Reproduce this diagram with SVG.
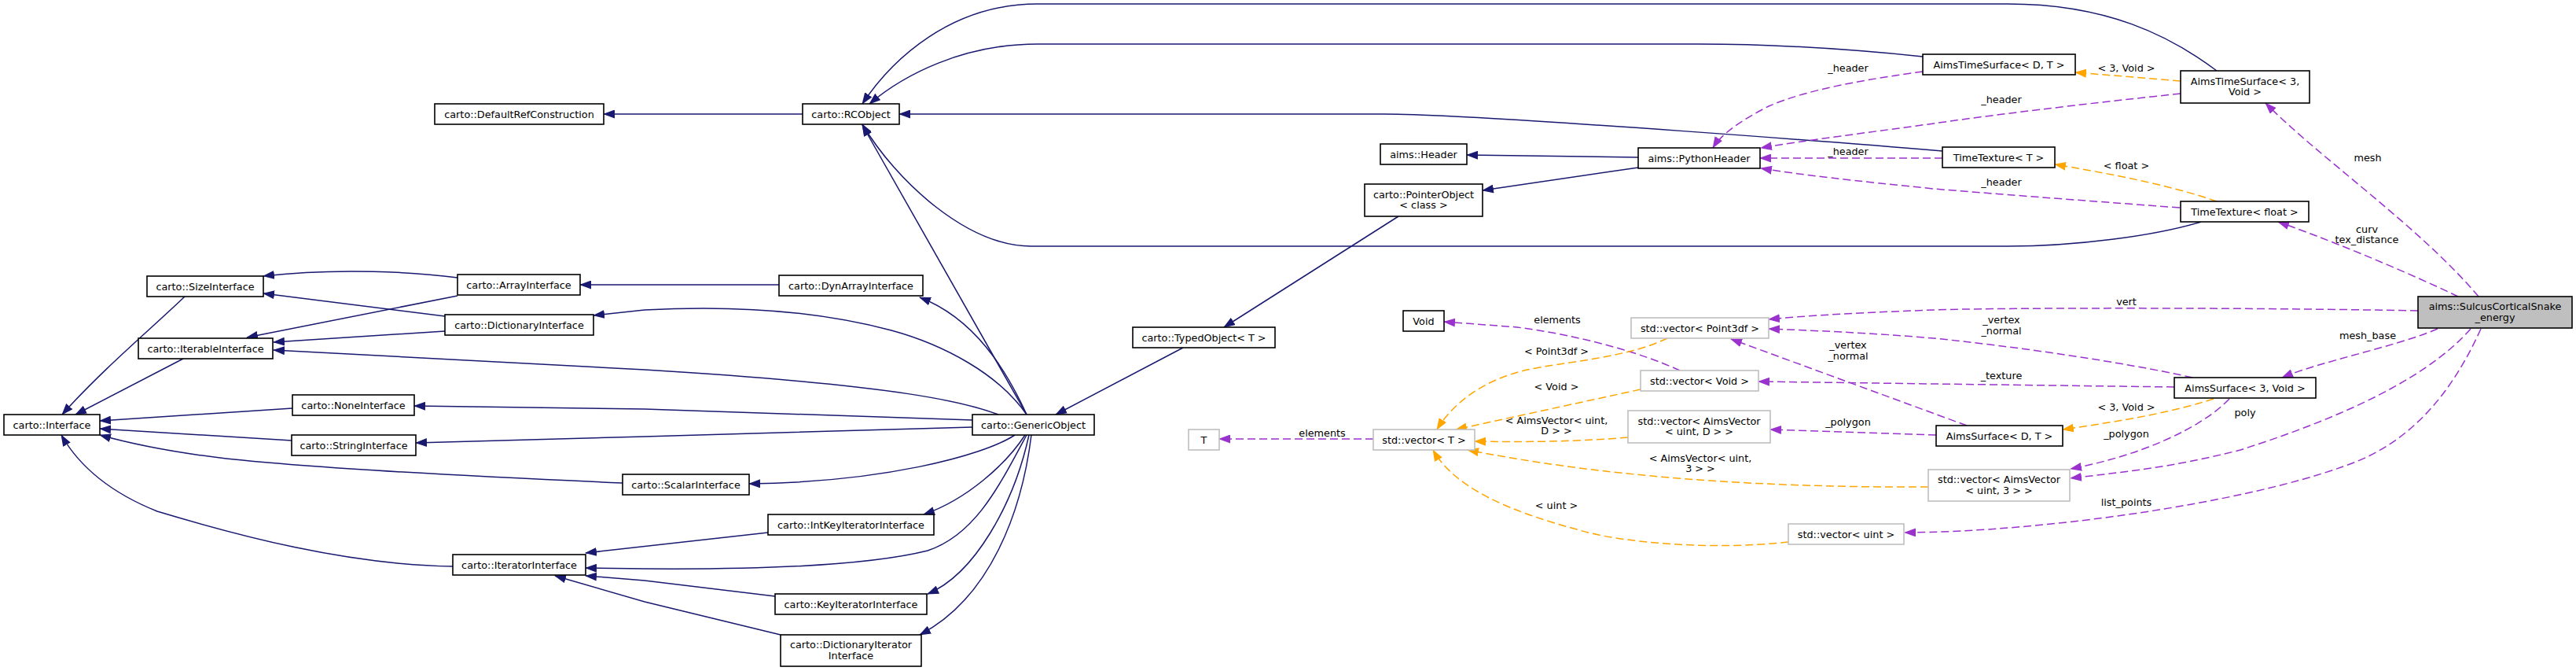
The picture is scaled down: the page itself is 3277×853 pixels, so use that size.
<svg xmlns="http://www.w3.org/2000/svg" width="3277" height="853" viewBox="0 0 3277 853">
<style>
text{font-family:"DejaVu Sans","Liberation Sans",sans-serif;font-size:12.8px;fill:#000;text-anchor:middle}
.n rect{fill:#fff;stroke:#000;stroke-width:1.6}
.u rect{fill:#fff;stroke:#bfbfbf;stroke-width:1.6}
.h rect{fill:#bfbfbf;stroke:#000;stroke-width:1.6}
.e path{fill:none;stroke-width:1.5}
.e .b{stroke:#191970;marker-end:url(#an)}
.e .p{stroke:#9a32cd;stroke-dasharray:10,5;marker-end:url(#ap)}
.e .o{stroke:#ffa500;stroke-dasharray:10,5;marker-end:url(#ao)}
</style>
<defs>
<marker id="an" markerWidth="15" markerHeight="11" refX="14" refY="5.5" orient="auto" markerUnits="userSpaceOnUse"><path d="M0,0 L15,5.5 L0,11 z" fill="#191970"/></marker>
<marker id="ap" markerWidth="15" markerHeight="11" refX="14" refY="5.5" orient="auto" markerUnits="userSpaceOnUse"><path d="M0,0 L15,5.5 L0,11 z" fill="#9a32cd"/></marker>
<marker id="ao" markerWidth="15" markerHeight="11" refX="14" refY="5.5" orient="auto" markerUnits="userSpaceOnUse"><path d="M0,0 L15,5.5 L0,11 z" fill="#ffa500"/></marker>
</defs>
<rect width="3277" height="853" fill="#fff"/>
<g class="e" id="edges">
<path class="b" d="M1021,145 L768,145"/>
<path class="b" d="M2820,90 C2760,45 2680,5 2554,5 L1320,5 C1210,5 1135,75 1097,132"/>
<path class="b" d="M2446,72 C2350,62 2250,56 2160,56 L1320,56 C1225,56 1150,95 1106,132"/>
<path class="b" d="M2471,192 C2400,186 1900,146 1760,145 L1144,145"/>
<path class="b" d="M2800,282 C2740,300 2640,313 2554,313 L1312,313 C1230,313 1140,230 1097,158"/>
<path class="b" d="M1306,527 L1097,159"/>
<path class="b" d="M1306,527 C1280,470 1240,405 1170,378"/>
<path class="b" d="M1306,527 C1270,475 1200,438 1134,420 C1040,395 930,388 820,394 L755,401"/>
<path class="b" d="M1270,527 C1230,512 1150,490 820,470 L348,445"/>
<path class="b" d="M1237,534 L820,520 L527,516"/>
<path class="b" d="M1237,543 L820,555 L529,563"/>
<path class="b" d="M1291,553 C1250,580 1120,613 953,615"/>
<path class="b" d="M1304,553 C1280,590 1230,635 1175,654"/>
<path class="b" d="M1306,553 C1270,620 1240,680 1180,700 C1100,720 950,724 820,723 L745,722"/>
<path class="b" d="M1309,553 C1290,640 1240,730 1180,755"/>
<path class="b" d="M1312,553 C1300,650 1260,760 1170,807"/>
<path class="b" d="M1505,442 L1343,527"/>
<path class="b" d="M1779,275 L1557,416"/>
<path class="b" d="M2084,213 L1886,242"/>
<path class="b" d="M2084,200 L1866,197"/>
<path class="b" d="M582,353 C530,346 430,340 335,351"/>
<path class="b" d="M566,402 L335,373"/>
<path class="b" d="M582,376 L314,429"/>
<path class="b" d="M566,421 L348,435"/>
<path class="b" d="M991,362 L738,362"/>
<path class="b" d="M235,377 C190,420 130,470 79,527"/>
<path class="b" d="M233,456 L96,527"/>
<path class="b" d="M372,519 L127,535"/>
<path class="b" d="M371,560 L127,545"/>
<path class="b" d="M792,614 C560,604 400,595 288,583 C220,575 170,565 127,553"/>
<path class="b" d="M576,720 C440,718 300,680 200,650 C150,630 105,600 78,553"/>
<path class="b" d="M977,677 L745,703"/>
<path class="b" d="M986,758 L820,738 L745,732"/>
<path class="b" d="M993,807 L820,765 L706,732"/>
<path class="p" d="M2446,91 C2380,100 2300,113 2250,135 C2215,153 2190,170 2179,188"/>
<path class="p" d="M2774,119 C2650,132 2520,148 2460,157 C2380,168 2300,178 2240,188"/>
<path class="p" d="M2471,201 L2239,201"/>
<path class="p" d="M2773,264 C2650,255 2520,245 2460,240 C2360,230 2290,222 2240,214"/>
<path class="p" d="M3153,377 C3080,290 2950,200 2882,131"/>
<path class="p" d="M3127,377 C3050,340 2950,300 2898,282"/>
<path class="p" d="M3076,395 C2800,390 2500,392 2460,394 C2350,398 2290,402 2250,406"/>
<path class="p" d="M3101,418 C3050,440 2950,460 2903,480"/>
<path class="p" d="M3143,418 C3080,490 2950,540 2850,572 C2760,595 2700,600 2634,608"/>
<path class="p" d="M3156,418 C3110,520 3050,570 2981,593 C2850,640 2600,676 2423,677"/>
<path class="p" d="M2789,480 C2700,460 2560,440 2460,430 C2380,423 2300,420 2250,418"/>
<path class="p" d="M2766,492 L2460,488 L2237,485"/>
<path class="p" d="M2836,507 C2800,545 2720,580 2634,596"/>
<path class="p" d="M2502,541 L2202,431"/>
<path class="p" d="M2463,553 L2252,546"/>
<path class="p" d="M1747,558 L1551,558"/>
<path class="p" d="M2137,471 C2080,445 2000,425 1930,416 L1837,409"/>
<path class="o" d="M2774,103 L2640,92"/>
<path class="o" d="M2820,256 C2760,235 2680,220 2614,209"/>
<path class="o" d="M2816,507 C2760,525 2700,535 2624,546"/>
<path class="o" d="M2121,430 C2070,455 1990,460 1943,470 C1890,482 1850,510 1828,546"/>
<path class="o" d="M2087,495 L1852,546"/>
<path class="o" d="M2071,556 C2000,562 1930,562 1876,561"/>
<path class="o" d="M2453,619 C2250,620 2050,608 1867,572"/>
<path class="o" d="M2275,689 C2180,700 2060,690 2006,673 C1920,650 1850,620 1823,572"/>
</g>
<g id="edge-labels">
<text x="2351" y="91">_header</text>
<text x="2546" y="131">_header</text>
<text x="2351" y="197">_header</text>
<text x="2546" y="236">_header</text>
<text x="2705" y="91">&lt; 3, Void &gt;</text>
<text x="2705" y="215">&lt; float &gt;</text>
<text x="3012" y="205">mesh</text>
<text x="3011" y="296">curv</text>
<text x="3011" y="309">tex_distance</text>
<text x="2705" y="388">vert</text>
<text x="2546" y="411">_vertex</text>
<text x="2546" y="425">_normal</text>
<text x="3012" y="431">mesh_base</text>
<text x="2546" y="482">_texture</text>
<text x="2705" y="522">&lt; 3, Void &gt;</text>
<text x="2856" y="529">poly</text>
<text x="2705" y="556">_polygon</text>
<text x="2705" y="643">list_points</text>
<text x="2351" y="443">_vertex</text>
<text x="2351" y="457">_normal</text>
<text x="2351" y="541">_polygon</text>
<text x="1980" y="451">&lt; Point3df &gt;</text>
<text x="1980" y="496">&lt; Void &gt;</text>
<text x="1980" y="539">&lt; AimsVector&lt; uint,</text>
<text x="1980" y="552">D &gt; &gt;</text>
<text x="2163" y="587">&lt; AimsVector&lt; uint,</text>
<text x="2163" y="600">3 &gt; &gt;</text>
<text x="1980" y="647">&lt; uint &gt;</text>
<text x="1682" y="555">elements</text>
<text x="1981" y="411">elements</text>
</g>
<g id="n1" class="n"><rect x="553" y="132" width="215" height="26"/><text x="660.5" y="149.5">carto::DefaultRefConstruction</text></g>
<g id="n2" class="n"><rect x="1021" y="132" width="123" height="26"/><text x="1082.5" y="149.5">carto::RCObject</text></g>
<g id="n3" class="n"><rect x="187" y="351" width="148" height="26"/><text x="261" y="368.5">carto::SizeInterface</text></g>
<g id="n4" class="n"><rect x="582" y="349" width="156" height="26"/><text x="660" y="366.5">carto::ArrayInterface</text></g>
<g id="n5" class="n"><rect x="566" y="400" width="189" height="26"/><text x="660.5" y="417.5">carto::DictionaryInterface</text></g>
<g id="n6" class="n"><rect x="176" y="430" width="171" height="26"/><text x="261.5" y="447.5">carto::IterableInterface</text></g>
<g id="n7" class="n"><rect x="5" y="527" width="122" height="26"/><text x="66" y="544.5">carto::Interface</text></g>
<g id="n8" class="n"><rect x="372" y="502" width="155" height="26"/><text x="449.5" y="519.5">carto::NoneInterface</text></g>
<g id="n9" class="n"><rect x="371" y="553" width="158" height="26"/><text x="450" y="570.5">carto::StringInterface</text></g>
<g id="n10" class="n"><rect x="792" y="603" width="161" height="26"/><text x="872.5" y="620.5">carto::ScalarInterface</text></g>
<g id="n11" class="n"><rect x="576" y="705" width="169" height="26"/><text x="660.5" y="722.5">carto::IteratorInterface</text></g>
<g id="n12" class="n"><rect x="991" y="350" width="183" height="26"/><text x="1082.5" y="367.5">carto::DynArrayInterface</text></g>
<g id="n13" class="n"><rect x="1441" y="416" width="181" height="26"/><text x="1531.5" y="433.5">carto::TypedObject&lt; T &gt;</text></g>
<g id="n14" class="n"><rect x="1237" y="527" width="155" height="26"/><text x="1314.5" y="544.5">carto::GenericObject</text></g>
<g id="n15" class="u"><rect x="1512" y="546" width="39" height="26"/><text x="1531.5" y="563.5">T</text></g>
<g id="n16" class="n"><rect x="977" y="654" width="211" height="26"/><text x="1082.5" y="671.5">carto::IntKeyIteratorInterface</text></g>
<g id="n17" class="n"><rect x="986" y="755" width="193" height="26"/><text x="1082.5" y="772.5">carto::KeyIteratorInterface</text></g>
<g id="n18" class="n"><rect x="993" y="807" width="179" height="40"/><text x="1082.5" y="824">carto::DictionaryIterator</text><text x="1082.5" y="838">Interface</text></g>
<g id="n19" class="n"><rect x="1756" y="183" width="110" height="26"/><text x="1811" y="200.5">aims::Header</text></g>
<g id="n20" class="n"><rect x="2084" y="188" width="155" height="26"/><text x="2161.5" y="205.5">aims::PythonHeader</text></g>
<g id="n21" class="n"><rect x="1736" y="234" width="150" height="41"/><text x="1811" y="251.5">carto::PointerObject</text><text x="1811" y="265">&lt; class &gt;</text></g>
<g id="n22" class="n"><rect x="1785" y="395" width="52" height="26"/><text x="1811" y="412.5">Void</text></g>
<g id="n23" class="u"><rect x="2075" y="404" width="175" height="26"/><text x="2162.5" y="421.5">std::vector&lt; Point3df &gt;</text></g>
<g id="n24" class="u"><rect x="2087" y="471" width="150" height="26"/><text x="2162" y="488.5">std::vector&lt; Void &gt;</text></g>
<g id="n25" class="u"><rect x="2071" y="522" width="181" height="41"/><text x="2161.5" y="539.5">std::vector&lt; AimsVector</text><text x="2161.5" y="553">&lt; uint, D &gt; &gt;</text></g>
<g id="n26" class="u"><rect x="1747" y="546" width="129" height="26"/><text x="1811.5" y="563.5">std::vector&lt; T &gt;</text></g>
<g id="n27" class="u"><rect x="2275" y="666" width="147" height="26"/><text x="2348.5" y="683.5">std::vector&lt; uint &gt;</text></g>
<g id="n28" class="u"><rect x="2453" y="597" width="180" height="40"/><text x="2543" y="614">std::vector&lt; AimsVector</text><text x="2543" y="628">&lt; uint, 3 &gt; &gt;</text></g>
<g id="n29" class="n"><rect x="2446" y="69" width="194" height="26"/><text x="2543" y="86.5">AimsTimeSurface&lt; D, T &gt;</text></g>
<g id="n30" class="n"><rect x="2774" y="90" width="164" height="41"/><text x="2856" y="107.5">AimsTimeSurface&lt; 3,</text><text x="2856" y="121">Void &gt;</text></g>
<g id="n31" class="n"><rect x="2471" y="187" width="143" height="26"/><text x="2542.5" y="204.5">TimeTexture&lt; T &gt;</text></g>
<g id="n32" class="n"><rect x="2774" y="256" width="163" height="26"/><text x="2855.5" y="273.5">TimeTexture&lt; float &gt;</text></g>
<g id="n33" class="h"><rect x="3076" y="377" width="196" height="40"/><text x="3174" y="394">aims::SulcusCorticalSnake</text><text x="3174" y="408">_energy</text></g>
<g id="n34" class="n"><rect x="2766" y="480" width="180" height="26"/><text x="2856" y="497.5">AimsSurface&lt; 3, Void &gt;</text></g>
<g id="n35" class="n"><rect x="2463" y="541" width="161" height="26"/><text x="2543.5" y="558.5">AimsSurface&lt; D, T &gt;</text></g>
</svg>
